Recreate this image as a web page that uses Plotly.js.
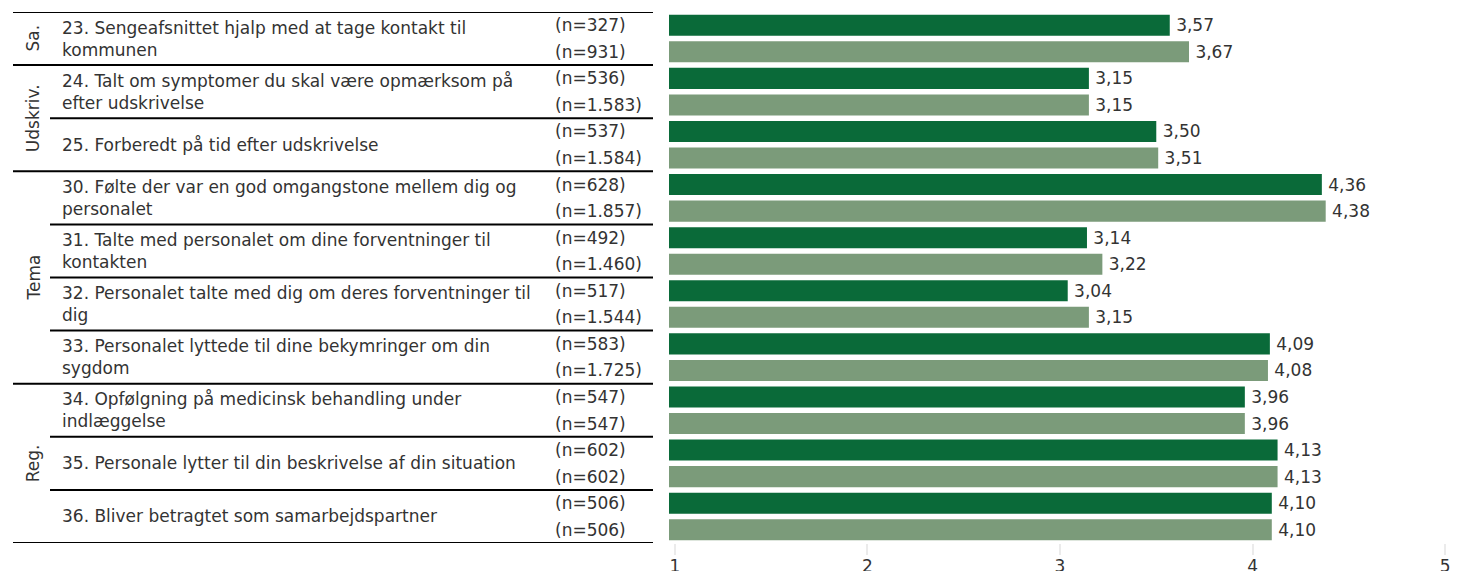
<!DOCTYPE html>
<html>
<head>
<meta charset="utf-8">
<script src="https://cdn.plot.ly/plotly-3.0.1.min.js"></script>
<style>html,body{margin:0;padding:0;background:#fff;}#chart{width:1466px;height:571px;}</style>
</head>
<body>
<div id="chart"></div>
<script>
// ---- data ----
const questions = [
  "23. Sengeafsnittet hjalp med at tage kontakt til<br>kommunen",
  "24. Talt om symptomer du skal være opmærksom på<br>efter udskrivelse",
  "25. Forberedt på tid efter udskrivelse",
  "30. Følte der var en god omgangstone mellem dig og<br>personalet",
  "31. Talte med personalet om dine forventninger til<br>kontakten",
  "32. Personalet talte med dig om deres forventninger til<br>dig",
  "33. Personalet lyttede til dine bekymringer om din<br>sygdom",
  "34. Opfølgning på medicinsk behandling under<br>indlæggelse",
  "35. Personale lytter til din beskrivelse af din situation",
  "36. Bliver betragtet som samarbejdspartner"
];
const valuesDark  = [3.57, 3.15, 3.50, 4.36, 3.14, 3.04, 4.09, 3.96, 4.13, 4.10];
const valuesLight = [3.67, 3.15, 3.51, 4.38, 3.22, 3.15, 4.08, 3.96, 4.13, 4.10];
const nDark  = ["327", "536", "537", "628", "492", "517", "583", "547", "602", "506"];
const nLight = ["931", "1.583", "1.584", "1.857", "1.460", "1.544", "1.725", "547", "602", "506"];
const groupNames = ["Sa.", "Udskriv.", "Tema", "Reg."];
const groupStart = [0, 1, 3, 7];   // first question index of each group
const groupEnd   = [0, 2, 6, 9];   // last question index of each group
const xTicks = [1, 2, 3, 4, 5];

// ---- styles ----
const FONT = "DejaVu Sans, Verdana, sans-serif";
const FS = 17;
const TXT = "#333333";
const DARK = "#0a6a39";
const LIGHT = "#7b9b7a";
const W = 1466;

const traces = [
  {type: "bar", orientation: "h", y: questions, x: valuesDark, marker: {color: DARK},
   texttemplate: "\u2009%{x:.2f}", textposition: "outside", cliponaxis: false,
   textfont: {family: FONT, size: FS, color: TXT}, hoverinfo: "x", showlegend: false},
  {type: "bar", orientation: "h", y: questions, x: valuesLight, marker: {color: LIGHT},
   texttemplate: "\u2009%{x:.2f}", textposition: "outside", cliponaxis: false,
   textfont: {family: FONT, size: FS, color: TXT}, hoverinfo: "x", showlegend: false}
];

const annotations = [];
const shapes = [];
questions.forEach((q, i) => {
  annotations.push({xref: "paper", yref: "y", x: 60 / W, y: i, text: q, showarrow: false,
    xanchor: "left", yanchor: "middle", align: "left", font: {family: FONT, size: FS, color: TXT}});
  annotations.push({xref: "paper", yref: "y", x: 553 / W, y: i - 0.25, text: "(n=" + nDark[i] + ")", showarrow: false,
    xanchor: "left", yanchor: "middle", font: {family: FONT, size: FS, color: TXT}});
  annotations.push({xref: "paper", yref: "y", x: 553 / W, y: i + 0.25, text: "(n=" + nLight[i] + ")", showarrow: false,
    xanchor: "left", yanchor: "middle", font: {family: FONT, size: FS, color: TXT}});
});
groupNames.forEach((g, k) => {
  annotations.push({xref: "paper", yref: "y", x: 33 / W, y: (groupStart[k] + groupEnd[k]) / 2, text: g,
    showarrow: false, textangle: -90, xanchor: "center", yanchor: "middle",
    font: {family: FONT, size: FS, color: TXT}});
  shapes.push({type: "line", xref: "paper", yref: "y", x0: 13 / W, x1: 653 / W,
    y0: groupEnd[k] + 0.5, y1: groupEnd[k] + 0.5, line: {color: "#000", width: 2}});
  for (let j = groupStart[k]; j < groupEnd[k]; j++) {
    shapes.push({type: "line", xref: "paper", yref: "y", x0: 50 / W, x1: 653 / W,
      y0: j + 0.5, y1: j + 0.5, line: {color: "#000", width: 2}});
  }
});
shapes.push({type: "line", xref: "paper", yref: "y", x0: 13 / W, x1: 653 / W,
  y0: -0.5, y1: -0.5, line: {color: "#000", width: 2}});

const layout = {
  width: 1466, height: 571,
  margin: {l: 0, r: 0, t: 12, b: 28},
  paper_bgcolor: "#fff", plot_bgcolor: "#fff",
  barmode: "group", bargap: 0, bargroupgap: 0.2075,
  separators: ",.",
  showlegend: false,
  font: {family: FONT, size: FS, color: TXT},
  xaxis: {domain: [669 / W, 1452 / W], range: [0.969, 5.036], tickvals: xTicks,
    showgrid: false, zeroline: false, showline: false,
    ticks: "outside", ticklen: 11, tickwidth: 2, tickcolor: "#ebebeb",
    ticklabelstandoff: -3,
    tickfont: {family: FONT, size: FS, color: TXT}},
  yaxis: {type: "category", range: [9.5, -0.5], showticklabels: false, showgrid: false,
    zeroline: false, showline: false, ticks: ""},
  annotations: annotations,
  shapes: shapes
};

Plotly.newPlot("chart", traces, layout, {displayModeBar: false, staticPlot: true});
</script>
</body>
</html>
